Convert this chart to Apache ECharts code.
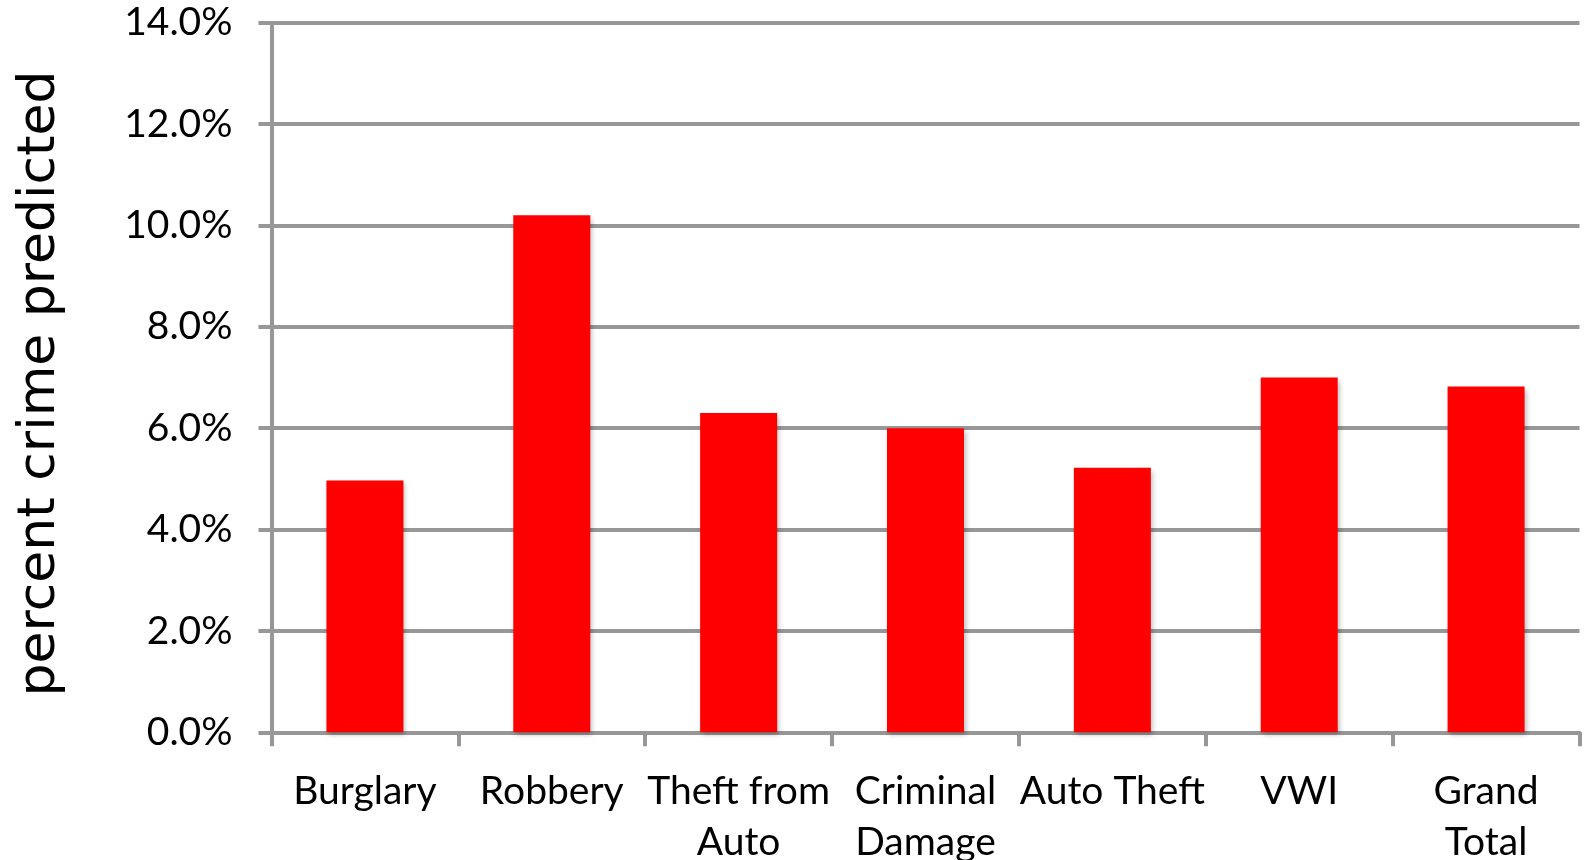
<!DOCTYPE html>
<html>
<head>
<meta charset="utf-8">
<script src="https://cdn.jsdelivr.net/npm/echarts@6/dist/echarts.min.js"></script>
<style>
html,body{margin:0;padding:0;background:#fff;}
#chart{width:1585px;height:860px;}
</style>
</head>
<body>
<div id="chart"></div>
<script>
const categories = ['Burglary', 'Robbery', 'Theft from\nAuto', 'Criminal\nDamage', 'Auto Theft', 'VWI', 'Grand\nTotal'];
const percentPredicted = [4.97, 10.2, 6.3, 6.0, 5.22, 7.0, 6.82];
const yAxisTitle = 'percent crime predicted';

const chart = echarts.init(document.getElementById('chart'), null, {renderer: 'canvas'});
chart.setOption({
  animation: false,
  backgroundColor: '#ffffff',
  grid: {left: 271.5, right: 5.5, top: 22.7, bottom: 127.7, containLabel: false, outerBoundsMode: 'none'},
  xAxis: {
    type: 'category',
    data: categories,
    boundaryGap: true,
    axisLine: {show: true, lineStyle: {color: '#979797', width: 4}},
    axisTick: {show: true, length: 14, lineStyle: {color: '#979797', width: 4}},
    axisLabel: {
      color: '#000', fontFamily: 'Lato', fontSize: 39, lineHeight: 51,
      margin: 34, interval: 0
    }
  },
  yAxis: {
    type: 'value',
    min: 0, max: 14, interval: 2,
    name: yAxisTitle,
    nameLocation: 'middle',
    nameGap: 205,
    nameTextStyle: {color: '#000', fontFamily: 'DejaVu Sans', fontSize: 52, padding: [0, 12, 0, 0]},
    axisLine: {show: true, lineStyle: {color: '#979797', width: 4}},
    axisTick: {show: true, length: 13, lineStyle: {color: '#979797', width: 4}},
    splitLine: {show: true, lineStyle: {color: '#979797', width: 4}},
    axisLabel: {
      color: '#000', fontFamily: 'Lato', fontSize: 39, margin: 39,
      padding: [14, 0, 0, 0],
      formatter: v => v.toFixed(1) + '%'
    }
  },
  series: [{
    type: 'bar',
    data: percentPredicted,
    barWidth: 77,
    itemStyle: {
      color: '#ff0000',
      shadowColor: 'rgba(0,0,0,0.28)', shadowBlur: 5, shadowOffsetX: 2, shadowOffsetY: 3
    }
  }]
});
</script>
</body>
</html>
